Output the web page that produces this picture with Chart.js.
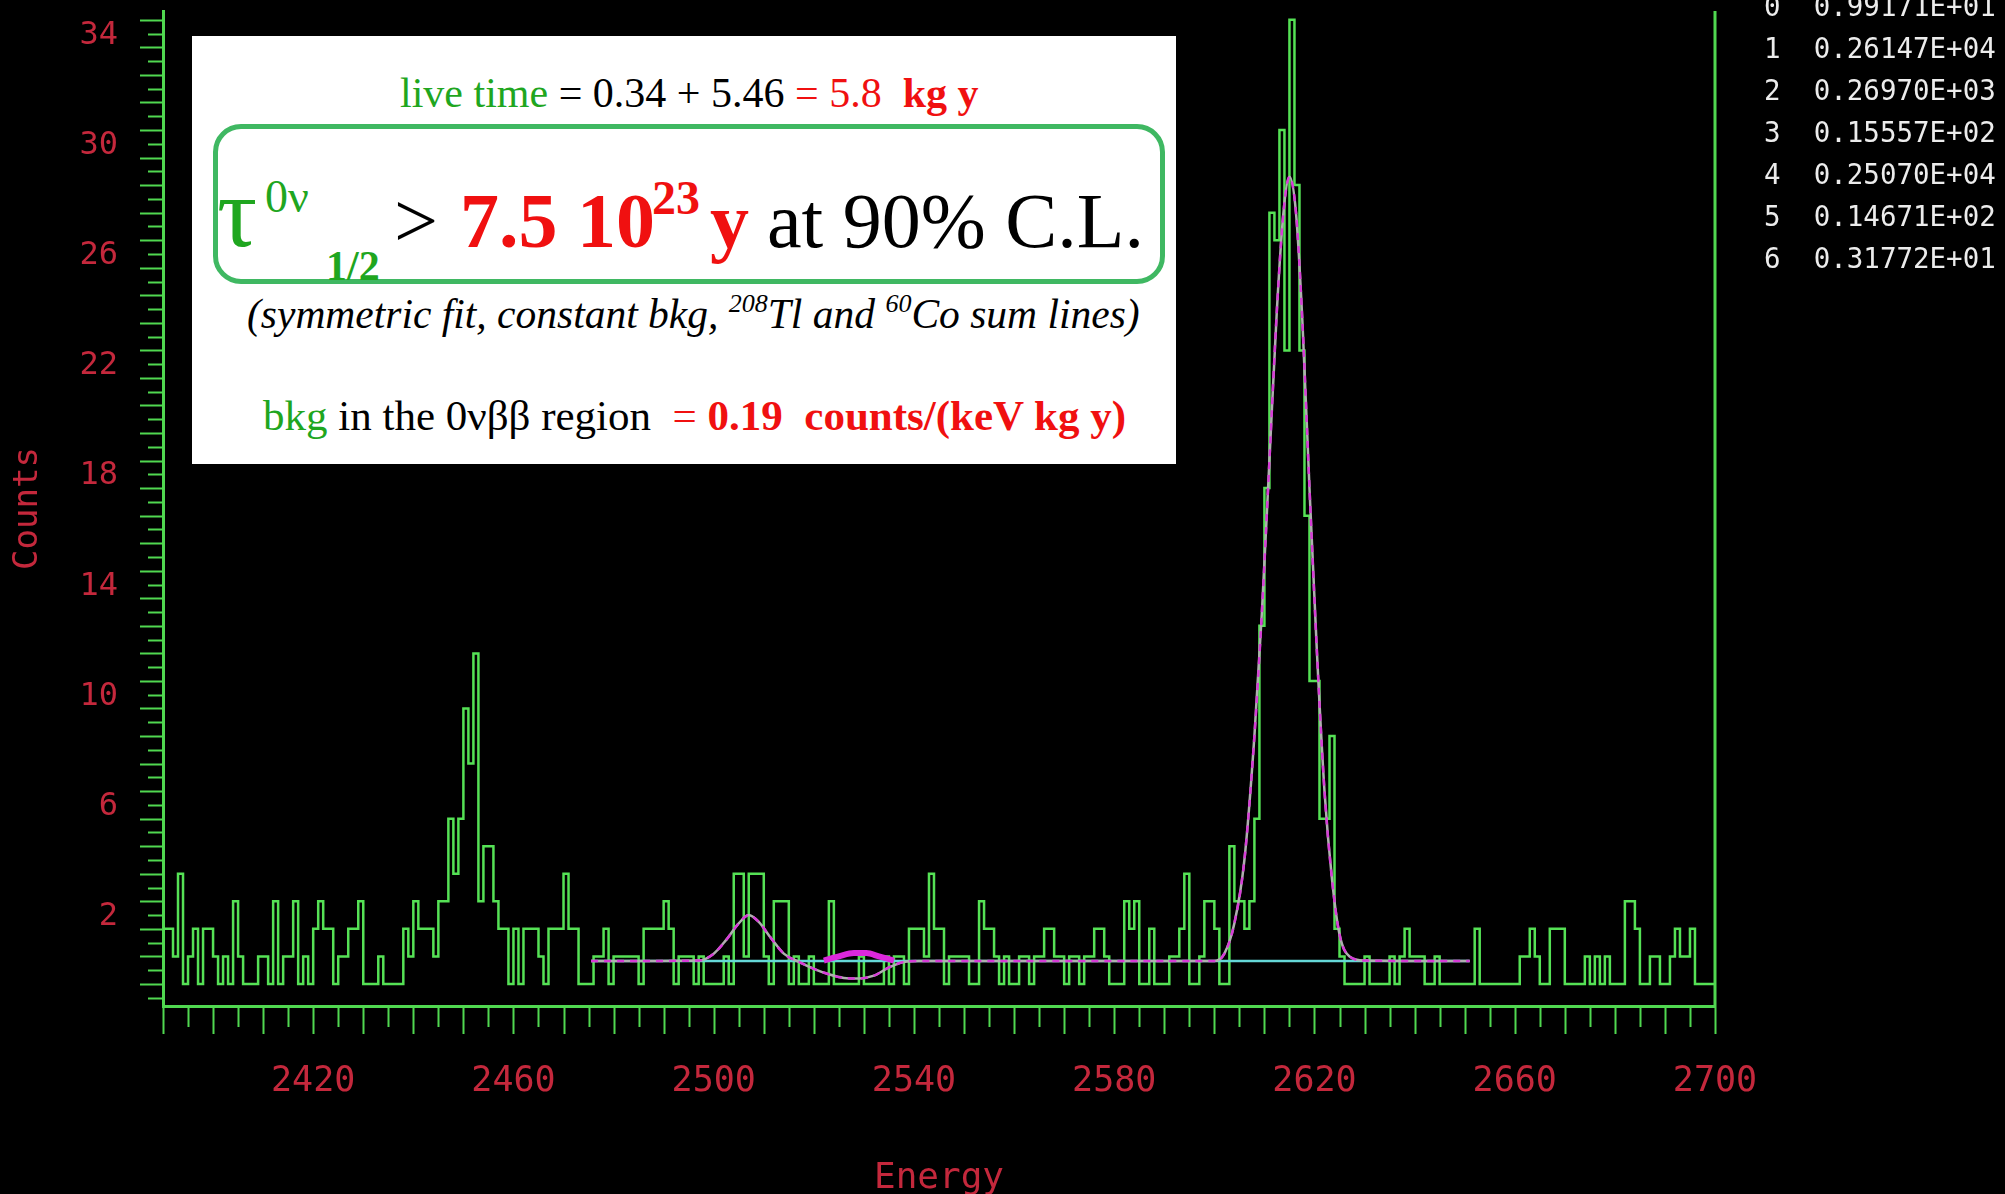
<!DOCTYPE html>
<html>
<head>
<meta charset="utf-8">
<title>Spectrum 2390-2700 keV</title>
<script src="https://cdn.jsdelivr.net/npm/chart.js@4.4.1/dist/chart.umd.min.js"></script>
<style>
  html, body { margin: 0; padding: 0; background: #000; }
  #wrap { position: relative; width: 2005px; height: 1194px; overflow: hidden; background: #000; }
  #spectrum { position: absolute; left: 0; top: 0; }
  #params { position: absolute; left: 1764px; top: -15px; font-family: 'DejaVu Sans Mono', monospace;
            font-size: 27.5px; line-height: 42px; color: #ececec; white-space: pre; }
  #box { position: absolute; left: 192px; top: 36px; width: 984px; height: 428px; background: #fff;
         font-family: 'Liberation Serif', 'Times New Roman', serif; color: #000; }
  #box .frame { position: absolute; left: 21px; top: 88px; width: 942px; height: 150px;
                border: 5px solid #3fb862; border-radius: 28px; }
  #box .t { position: absolute; white-space: nowrap; line-height: 1; }
  .g { color: #1fa61f; }
  .r { color: #f01010; }
  .sup { position: relative; font-size: 26px; top: -16px; }
</style>
</head>
<body>
<div id="wrap">
  <canvas id="spectrum" width="2005" height="1194"></canvas>

  <div id="params">0  0.99171E+01
1  0.26147E+04
2  0.26970E+03
3  0.15557E+02
4  0.25070E+04
5  0.14671E+02
6  0.31772E+01</div>

  <div id="box">
    <div class="t" style="left:208px; top:36px; font-size:42px;"><span class="g">live time</span> = 0.34 + 5.46 <span class="r">= 5.8&nbsp; <b>kg y</b></span></div>

    <div class="frame"></div>
    <div class="t g" style="left:25px; top:127px; font-size:100px;">τ</div>
    <div class="t g" style="left:73px; top:138px; font-size:46px;">0ν</div>
    <div class="t g" style="left:134px; top:209px; font-size:42px; font-weight:bold;">1/2</div>
    <div class="t" style="left:202px; top:146px; font-size:78px;">&gt;</div>
    <div class="t r" style="left:268px; top:146px; font-size:78px; font-weight:bold;">7.5 10</div>
    <div class="t r" style="left:460px; top:138px; font-size:48px; font-weight:bold;">23</div>
    <div class="t r" style="left:518px; top:146px; font-size:78px; font-weight:bold;">y</div>
    <div class="t" style="left:575px; top:146px; font-size:78px;">at 90% C.L.</div>

    <div class="t" style="left:55px; top:258px; font-size:41.5px; font-style:italic;">(symmetric fit, constant bkg, <span class="sup">208</span>Tl and <span class="sup">60</span>Co sum lines)</div>

    <div class="t" style="left:71px; top:358px; font-size:43px;"><span class="g">bkg</span> in the 0νββ region&nbsp; <span class="r">= <b>0.19&nbsp; counts/(keV kg y)</b></span></div>
  </div>
</div>

<script>
// histogram: 1 keV bins starting at 2390 keV
const energyStart = 2390;
const energyEnd = 2700;
const counts = [
  2, 2, 1, 4, 0, 1, 2, 0, 2, 2,
  1, 0, 1, 0, 3, 1, 0, 0, 0, 1,
  1, 0, 3, 0, 1, 1, 3, 0, 1, 0,
  2, 3, 2, 2, 0, 1, 1, 2, 2, 3,
  0, 0, 0, 1, 0, 0, 0, 0, 2, 1,
  3, 2, 2, 2, 1, 3, 3, 6, 4, 6,
  10, 8, 12, 3, 5, 5, 3, 2, 2, 0,
  2, 0, 2, 2, 2, 1, 0, 2, 2, 2,
  4, 2, 2, 0, 0, 0, 1, 1, 2, 0,
  1, 1, 1, 1, 1, 0, 2, 2, 2, 2,
  3, 2, 0, 1, 1, 1, 0, 1, 0, 0,
  0, 0, 1, 0, 4, 4, 1, 4, 4, 4,
  1, 0, 3, 3, 3, 0, 1, 0, 0, 1,
  0, 0, 0, 3, 0, 0, 0, 0, 0, 1,
  0, 0, 0, 0, 1, 0, 1, 1, 0, 2,
  2, 2, 1, 4, 2, 2, 0, 1, 1, 1,
  1, 0, 0, 3, 2, 2, 1, 0, 1, 0,
  0, 1, 1, 0, 1, 1, 2, 2, 1, 1,
  0, 1, 1, 0, 1, 1, 2, 2, 1, 0,
  0, 0, 3, 2, 3, 0, 0, 2, 0, 0,
  0, 1, 1, 2, 4, 0, 0, 1, 3, 3,
  2, 0, 0, 5, 3, 3, 2, 3, 6, 13,
  18, 28, 27, 31, 23, 35, 29, 23, 17, 11,
  11, 6, 6, 9, 2, 1, 0, 0, 0, 0,
  1, 0, 0, 0, 0, 1, 0, 1, 2, 1,
  1, 1, 0, 0, 1, 0, 0, 0, 0, 0,
  0, 0, 2, 0, 0, 0, 0, 0, 0, 0,
  0, 1, 1, 2, 1, 0, 0, 2, 2, 2,
  0, 0, 0, 0, 1, 0, 1, 0, 1, 0,
  0, 0, 3, 3, 2, 0, 0, 1, 1, 0,
  0, 1, 2, 1, 1, 2, 0, 0, 0, 0
];

// fit curve (constant bkg + peaks)
const fitEnergy = [2475.5, 2497, 2500, 2502.5, 2505, 2507, 2509, 2511.5, 2514, 2517, 2520, 2523, 2526, 2529, 2532, 2535, 2538, 2541,
                   2600, 2602, 2604, 2606, 2608, 2609.5, 2611, 2612.5, 2613.8, 2615, 2616.3, 2617.6, 2619, 2620.5, 2622, 2623.5, 2625, 2627, 2630, 2651];
const fitCounts = [0.83, 0.85, 1.1, 1.6, 2.2, 2.5, 2.25, 1.65, 1.1, 0.8, 0.55, 0.35, 0.22, 0.2, 0.3, 0.6, 0.8, 0.83,
                   0.83, 1.1, 2.2, 4.5, 9, 13.5, 19, 24.5, 28, 29.3, 28, 24, 18, 12, 7, 3.8, 1.8, 1.0, 0.85, 0.83];

// upper curve at the 0vbb position
const limitEnergy = [2522, 2525, 2528, 2530.5, 2533, 2536];
const limitCounts = [0.85, 1.0, 1.12, 1.12, 1.0, 0.85];

// constant background
const bkgEnergy = [2475.5, 2651];
const bkgCounts = [0.83, 0.83];

const xLabels = [2420, 2460, 2500, 2540, 2580, 2620, 2660, 2700];
const yLabels = [2, 6, 10, 14, 18, 22, 26, 30, 34];
const xTickStep = 5;
const yTickStep = 0.5;

const axisGreen = 'rgb(80,215,80)';
const labelRed = '#c4283c';
const pixelFont = "'DejaVu Sans Mono', monospace";

document.addEventListener('DOMContentLoaded', function() {
    const histPoints = counts.map((c, i) => ({ x: energyStart + i, y: c }));
    histPoints.push({ x: energyEnd, y: counts[counts.length - 1] });

    const toXY = (xs, ys) => xs.map((e, i) => ({ x: e, y: ys[i] }));

    // no extra room for the outer labels, the frame is fixed
    const noPadding = s => {
        s.paddingTop = 0; s.paddingBottom = 0;
        s.paddingLeft = 0; s.paddingRight = 0;
    };

    // axis ticks and the right frame line
    const frameTicks = {
        id: 'frameTicks',
        afterDraw(chart) {
            const { ctx, chartArea, scales } = chart;
            const x = scales.x, y = scales.y;
            ctx.save();
            ctx.strokeStyle = axisGreen;
            ctx.lineWidth = 2;
            ctx.beginPath();
            for (let e = energyStart; e <= energyEnd; e += xTickStep) {
                const px = Math.round(x.getPixelForValue(e)) + 0.5;
                const len = e % 10 === 0 ? 28 : 21;
                ctx.moveTo(px, chartArea.bottom);
                ctx.lineTo(px, chartArea.bottom + len);
            }
            for (let v = -0.5; v <= y.max; v += yTickStep) {
                const py = Math.round(y.getPixelForValue(v)) + 0.5;
                const len = Number.isInteger(v) ? 23 : 15;
                ctx.moveTo(chartArea.left, py);
                ctx.lineTo(chartArea.left - len, py);
            }
            ctx.stroke();
            ctx.lineWidth = 3;
            ctx.beginPath();
            ctx.moveTo(chartArea.right, chartArea.top);
            ctx.lineTo(chartArea.right, chartArea.bottom);
            ctx.stroke();
            ctx.restore();
        }
    };

    const ctx = document.getElementById('spectrum').getContext('2d');
    new Chart(ctx, {
        type: 'line',
        data: {
            datasets: [
                {
                    label: 'fit (dashes)',
                    data: toXY(fitEnergy, fitCounts),
                    borderColor: 'rgb(215,60,215)',
                    borderWidth: 2.5,
                    borderDash: [7, 6],
                    cubicInterpolationMode: 'monotone',
                    pointRadius: 0,
                    order: 0
                },
                {
                    label: 'fit',
                    data: toXY(fitEnergy, fitCounts),
                    borderColor: 'rgb(175,175,175)',
                    borderWidth: 2.5,
                    cubicInterpolationMode: 'monotone',
                    pointRadius: 0,
                    order: 1
                },
                {
                    label: 'limit',
                    data: toXY(limitEnergy, limitCounts),
                    borderColor: 'rgb(220,40,220)',
                    borderWidth: 6,
                    cubicInterpolationMode: 'monotone',
                    pointRadius: 0,
                    order: 0
                },
                {
                    label: 'bkg',
                    data: toXY(bkgEnergy, bkgCounts),
                    borderColor: 'rgb(100,215,215)',
                    borderWidth: 2.5,
                    pointRadius: 0,
                    order: 2
                },
                {
                    label: 'Counts',
                    data: histPoints,
                    borderColor: 'rgb(85,225,85)',
                    borderWidth: 2.5,
                    stepped: true,
                    pointRadius: 0,
                    order: 3
                }
            ]
        },
        options: {
            responsive: false,
            animation: false,
            layout: { padding: { top: 11, right: 290, left: 0, bottom: 0 } },
            plugins: {
                legend: { display: false },
                tooltip: { enabled: false }
            },
            scales: {
                x: {
                    type: 'linear',
                    min: energyStart,
                    max: energyEnd,
                    afterBuildTicks: s => { s.ticks = xLabels.map(v => ({ value: v })); },
                    afterFit: s => { s.height = 188; noPadding(s); },
                    grid: { display: false, drawTicks: false },
                    border: { display: true, color: axisGreen, width: 3 },
                    ticks: {
                        color: labelRed,
                        font: { family: pixelFont, size: 35 },
                        padding: 55,
                        maxRotation: 0,
                        autoSkip: false,
                        callback: v => String(v)
                    },
                    title: {
                        display: true,
                        text: 'Energy',
                        color: labelRed,
                        font: { family: pixelFont, size: 36 },
                        padding: { top: 0, bottom: -6 }
                    }
                },
                y: {
                    type: 'linear',
                    min: -0.8,
                    max: 35.32,
                    afterBuildTicks: s => { s.ticks = yLabels.map(v => ({ value: v })); },
                    afterFit: s => { s.width = 163; noPadding(s); },
                    grid: { display: false, drawTicks: false },
                    border: { display: true, color: axisGreen, width: 3 },
                    ticks: {
                        color: labelRed,
                        font: { family: pixelFont, size: 32 },
                        padding: 45,
                        labelOffset: -12,
                        callback: v => String(v)
                    },
                    title: {
                        display: true,
                        text: 'Counts',
                        color: labelRed,
                        font: { family: pixelFont, size: 34 },
                        padding: { top: 8, bottom: 0 }
                    }
                }
            }
        },
        plugins: [frameTicks]
    });
});
</script>
</body>
</html>
